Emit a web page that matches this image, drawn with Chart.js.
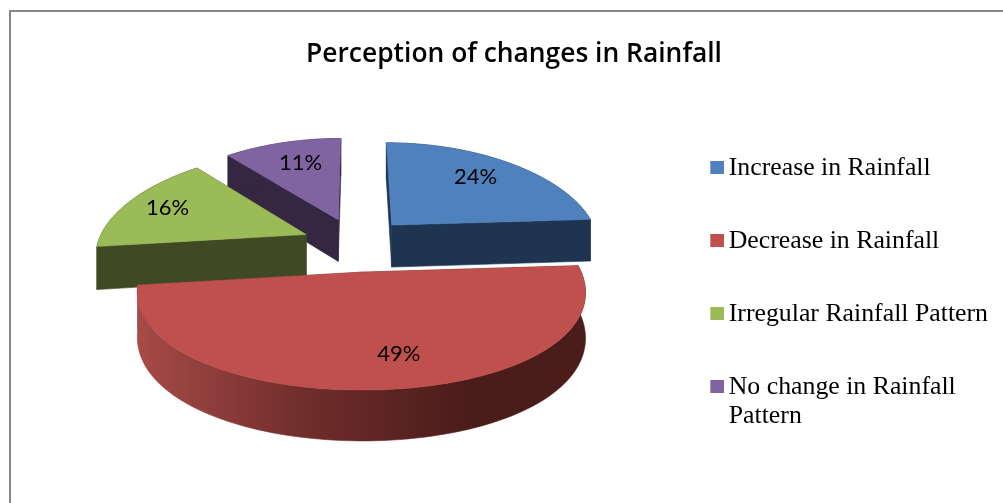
<!DOCTYPE html>
<html><head><meta charset="utf-8">
<style>html,body{margin:0;padding:0;background:#fff}canvas{display:block}</style>
<script src="https://cdn.jsdelivr.net/npm/chart.js@4/dist/chart.umd.js"></script>
</head><body>
<canvas id="c" width="1003" height="503"></canvas>
<script>
const categories = ['Increase in Rainfall','Decrease in Rainfall','Irregular Rainfall Pattern',['No change in Rainfall','Pattern']];
const values = [24,49,16,11];
const topColors = ['#4f81bd','#c0504d','#9bbb59','#8064a2'];
const sideColors = ['#1f3450',null,'#3f4a24','#352642'];
const chartTitle = 'Perception of changes in Rainfall';
const drawOrder = [0,3,2,1];
const labelNudge = [[-2,-4],[20,3],[-13,-3],[3,-1]];
// Oblique view of the pie plane
const VIEW = {dx:7,dy:-108,sx:209,sy:96.5,k:0.12,kx:0.18,ex:0.26,ez:0.28,depth:43};

function swatch(color){
  const s=document.createElement('canvas');s.width=18;s.height=13;
  const g=s.getContext('2d');g.fillStyle=color;g.fillRect(4,0,14,13);return s;
}
function viewPoint(cx,cy,px,pz,low){
  const w=1+VIEW.k*pz,wx=1+VIEW.kx*pz;
  return [cx+VIEW.sx*px/wx, cy-VIEW.sy*pz/w+(low?VIEW.depth/w:0)];
}
function poly(c,pts){
  c.beginPath();pts.forEach((p,j)=>j?c.lineTo(...p):c.moveTo(...p));c.closePath();c.fill();c.stroke();
}
const view3d={
  id:'view3d',
  beforeDraw(chart){
    const c=chart.ctx;c.save();c.strokeStyle='#868686';c.lineWidth=2;c.beginPath();
    c.moveTo(10,503);c.lineTo(10,11);c.lineTo(1003,11);c.stroke();c.restore();
  },
  beforeDatasetDraw(chart){
    const c=chart.ctx,arcs=chart.getDatasetMeta(0).data;
    const cx=arcs[0].x+VIEW.dx,cy=arcs[0].y+VIEW.dy;
    const geo=a=>{
      const s=a.startAngle+Math.PI/2,e=a.endAngle+Math.PI/2,m=(s+e)/2;
      return {s,e,m,ox:VIEW.ex*Math.sin(m),oz:VIEW.ez*Math.cos(m)};
    };
    for(const i of drawOrder){
      const g=geo(arcs[i]),plane=[[g.ox,g.oz]];
      const n=Math.ceil((g.e-g.s)/0.03);
      for(let j=0;j<=n;j++){const t=g.s+(g.e-g.s)*j/n;plane.push([g.ox+Math.sin(t),g.oz+Math.cos(t)]);}
      const up=plane.map(p=>viewPoint(cx,cy,p[0],p[1],false));
      const lo=plane.map(p=>viewPoint(cx,cy,p[0],p[1],true));
      let side=sideColors[i];
      if(!side){
        side=c.createLinearGradient(cx-215,0,cx+115,0);
        side.addColorStop(0,'#a54a47');side.addColorStop(0.5,'#6f2d2b');side.addColorStop(1,'#4a1c1a');
      }
      const last=up.length-1;
      c.save();c.fillStyle=side;c.strokeStyle=side;c.lineWidth=0.6;c.lineJoin='round';
      poly(c,[up[0],up[1],lo[1],lo[0]]);
      poly(c,[up[0],up[last],lo[last],lo[0]]);
      poly(c,up.slice(1).concat(lo.slice(1).reverse()));
      c.fillStyle=arcs[i].options.backgroundColor;
      c.strokeStyle=c.fillStyle;c.lineWidth=0.5;
      poly(c,up);
      c.restore();
    }
    c.save();c.fillStyle='#000';c.font='22px Lato';c.textAlign='center';c.textBaseline='middle';
    arcs.forEach((a,i)=>{
      const g=geo(a),r=0.7;
      const p=viewPoint(cx,cy,g.ox+r*Math.sin(g.m),g.oz+r*Math.cos(g.m),false);
      c.fillText(values[i]+'%',p[0]+labelNudge[i][0],p[1]+labelNudge[i][1]);
    });
    c.restore();
    return false;
  }
};
new Chart(document.getElementById('c'),{
  type:'pie',
  data:{labels:categories,datasets:[{data:values,backgroundColor:topColors,borderWidth:0}]},
  plugins:[view3d],
  options:{
    responsive:false,animation:false,
    layout:{padding:{left:30,right:5,top:0,bottom:24}},
    plugins:{
      tooltip:{enabled:false},
      title:{display:true,text:chartTitle,color:'#000',font:{family:'"Open Sans"',size:26.4,weight:'600'},padding:{top:39,bottom:155}},
      legend:{position:'right',align:'end',
        labels:{color:'#000',font:{family:'"Liberation Serif"',size:25.8,lineHeight:1.12},
          usePointStyle:true,pointStyleWidth:1,boxWidth:1,boxHeight:13,padding:47.2,
          generateLabels(chart){
            return categories.map((t,i)=>({text:t,fillStyle:topColors[i],strokeStyle:topColors[i],lineWidth:0,pointStyle:swatch(topColors[i]),hidden:false,index:i,fontColor:'#000'}));
          }}
      }
    }
  }
});
</script>
</body></html>
